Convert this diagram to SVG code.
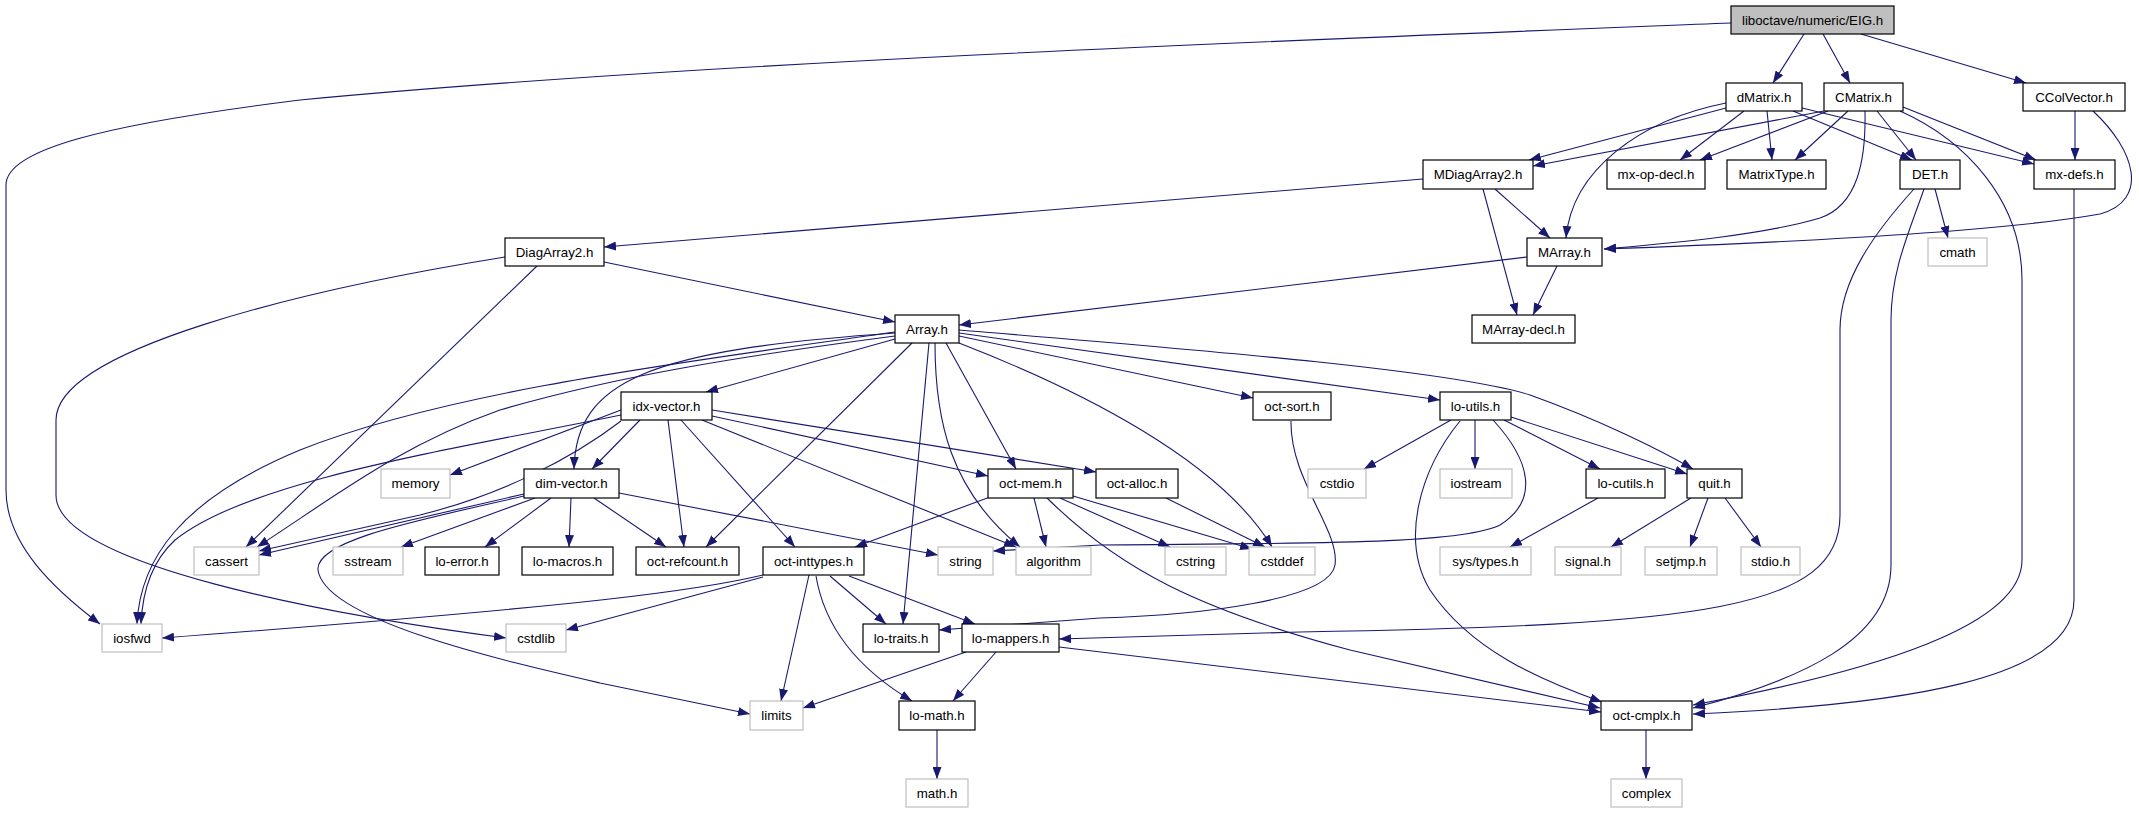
<svg xmlns="http://www.w3.org/2000/svg" width="2139" height="813" viewBox="0 0 2139 813">
<defs>
<marker id="arr" viewBox="0 0 12 9" refX="12" refY="4.5" markerWidth="12" markerHeight="9" markerUnits="userSpaceOnUse" orient="auto">
<path d="M0,0 L12,4.5 L0,9 z" fill="#191970"/>
</marker>
<style>
.e path{fill:none;stroke:#191970;stroke-width:1.1;marker-end:url(#arr)}
.n rect{fill:#fff;stroke:#000;stroke-width:1.2}
.s rect{fill:#fff;stroke:#bfbfbf;stroke-width:1.2}
.r rect{fill:#bfbfbf;stroke:#000;stroke-width:1.2}
text{font-family:"Liberation Sans",Arial,Helvetica,sans-serif;font-size:13.3px;fill:#000;text-anchor:middle}
</style>
</defs>
<rect width="2139" height="813" fill="#fff"/>
<g id="edges" class="e">
<path d="M1731,23 C1300,40 700,62 300,100 C100,125 6,150 6,185 L6,490 C6,545 55,590 100,624"/>
<path d="M1804,34 L1773,83"/>
<path d="M1823,34 L1850,83"/>
<path d="M1861,34 L2026,83"/>
<path d="M1726,108 L1529,160"/>
<path d="M1726,103 C1640,120 1572,170 1566,238"/>
<path d="M1744,111 L1680,160"/>
<path d="M1767,111 L1772,160"/>
<path d="M1793,111 L1912,160"/>
<path d="M1802,108 L2034,164"/>
<path d="M1824,111 L1533,166"/>
<path d="M1828,111 L1700,160"/>
<path d="M1848,111 L1795,160"/>
<path d="M1877,111 L1916,160"/>
<path d="M1903,107 L2036,160"/>
<path d="M1865,111 C1866,160 1858,205 1820,218 C1760,236 1660,244 1604,249"/>
<path d="M1900,111 C1965,140 2022,200 2022,280 L2022,560 C2022,625 1880,670 1693,705"/>
<path d="M2075,111 L2075,160"/>
<path d="M2093,111 C2135,150 2150,200 2100,214 C2000,232 1800,242 1604,249"/>
<path d="M1423,179 L604,247"/>
<path d="M1495,189 L1550,238"/>
<path d="M1483,189 L1517,315"/>
<path d="M1935,189 L1948,238"/>
<path d="M1914,189 C1875,232 1840,280 1840,330 L1840,515 C1840,610 1700,625 1300,632 L1059,639"/>
<path d="M1924,189 C1910,230 1891,270 1891,320 L1891,565 C1891,640 1800,680 1693,708"/>
<path d="M2074,189 L2074,600 C2074,680 1900,705 1693,714"/>
<path d="M604,262 L895,322"/>
<path d="M537,266 L246,547"/>
<path d="M505,257 C300,290 56,350 56,420 L56,495 C56,565 330,615 506,638"/>
<path d="M1527,257 L959,325"/>
<path d="M1557,266 L1533,315"/>
<path d="M895,339 L706,392"/>
<path d="M895,333 C650,350 576,380 574,469"/>
<path d="M895,332 C700,360 450,390 300,450 C180,500 140,560 137,624"/>
<path d="M895,336 C750,355 620,375 500,410 C400,445 330,500 257,547"/>
<path d="M912,343 L706,547"/>
<path d="M929,343 L903,624"/>
<path d="M935,343 C935,420 950,490 1020,547"/>
<path d="M946,343 L1016,469"/>
<path d="M959,343 C1080,390 1220,460 1272,547"/>
<path d="M959,336 L1253,398"/>
<path d="M959,333 L1440,400"/>
<path d="M959,330 C1200,350 1450,370 1530,395 C1600,420 1660,450 1693,469"/>
<path d="M621,410 L450,475"/>
<path d="M640,420 L592,469"/>
<path d="M621,415 C450,450 250,480 175,540 C148,565 142,600 141,624"/>
<path d="M621,421 C570,460 500,495 420,515 L259,551"/>
<path d="M668,420 L684,547"/>
<path d="M681,420 L795,547"/>
<path d="M702,420 L1016,547"/>
<path d="M712,416 L988,476"/>
<path d="M712,410 L1096,472"/>
<path d="M524,494 L259,555"/>
<path d="M535,498 L401,547"/>
<path d="M551,498 L485,547"/>
<path d="M571,498 L569,547"/>
<path d="M594,498 L666,547"/>
<path d="M619,493 L938,555"/>
<path d="M524,496 C420,520 315,540 318,570 C325,620 500,660 600,683 L750,714"/>
<path d="M990,497 L855,547"/>
<path d="M1034,498 L1046,547"/>
<path d="M1060,498 L1170,547"/>
<path d="M1073,496 L1252,549"/>
<path d="M1047,498 C1120,570 1200,610 1350,650 L1600,708"/>
<path d="M1166,498 L1265,547"/>
<path d="M763,575 C700,590 600,605 162,638"/>
<path d="M763,577 L566,630"/>
<path d="M809,575 L781,701"/>
<path d="M816,576 C825,630 860,670 912,701"/>
<path d="M830,576 L886,624"/>
<path d="M849,576 L975,624"/>
<path d="M966,652 L803,708"/>
<path d="M996,652 L953,701"/>
<path d="M1059,647 L1601,712"/>
<path d="M937,730 L937,779"/>
<path d="M1646,730 L1646,779"/>
<path d="M1291,421 C1290,480 1340,530 1335,565 C1330,600 1200,615 1100,618 L939,630"/>
<path d="M1451,420 L1364,469"/>
<path d="M1475,420 L1475,469"/>
<path d="M1504,420 L1600,469"/>
<path d="M1511,417 L1687,474"/>
<path d="M1493,420 C1530,460 1540,500 1500,525 C1460,545 1300,543 1100,545 L993,551"/>
<path d="M1460,421 C1420,470 1400,540 1430,590 C1470,650 1540,680 1602,702"/>
<path d="M1598,498 L1510,547"/>
<path d="M1691,498 L1611,547"/>
<path d="M1708,498 L1690,547"/>
<path d="M1725,498 L1761,547"/>
</g>
<g id="EIG" class="r"><rect x="1731" y="6" width="163" height="28"/><text x="1812.5" y="24.5">liboctave/numeric/EIG.h</text></g>
<g id="dMatrix" class="n"><rect x="1726" y="83" width="76" height="28"/><text x="1764" y="101.5">dMatrix.h</text></g>
<g id="CMatrix" class="n"><rect x="1824" y="83" width="79" height="28"/><text x="1863.5" y="101.5">CMatrix.h</text></g>
<g id="CColVector" class="n"><rect x="2023" y="83" width="102" height="28"/><text x="2074" y="101.5">CColVector.h</text></g>
<g id="MDiagArray2" class="n"><rect x="1423" y="160" width="110" height="29"/><text x="1478" y="179">MDiagArray2.h</text></g>
<g id="mx-op-decl" class="n"><rect x="1607" y="160" width="98" height="29"/><text x="1656" y="179">mx-op-decl.h</text></g>
<g id="MatrixType" class="n"><rect x="1727" y="160" width="99" height="29"/><text x="1776.5" y="179">MatrixType.h</text></g>
<g id="DET" class="n"><rect x="1900" y="160" width="60" height="29"/><text x="1930" y="179">DET.h</text></g>
<g id="mx-defs" class="n"><rect x="2034" y="160" width="81" height="29"/><text x="2074.5" y="179">mx-defs.h</text></g>
<g id="DiagArray2" class="n"><rect x="505" y="238" width="99" height="28"/><text x="554.5" y="256.5">DiagArray2.h</text></g>
<g id="MArray" class="n"><rect x="1527" y="238" width="75" height="28"/><text x="1564.5" y="256.5">MArray.h</text></g>
<g id="cmath" class="s"><rect x="1928" y="238" width="59" height="28"/><text x="1957.5" y="256.5">cmath</text></g>
<g id="Array" class="n"><rect x="895" y="315" width="64" height="28"/><text x="927" y="333.5">Array.h</text></g>
<g id="MArray-decl" class="n"><rect x="1472" y="315" width="103" height="28"/><text x="1523.5" y="333.5">MArray-decl.h</text></g>
<g id="idx-vector" class="n"><rect x="621" y="392" width="91" height="28"/><text x="666.5" y="410.5">idx-vector.h</text></g>
<g id="oct-sort" class="n"><rect x="1253" y="392" width="78" height="28"/><text x="1292" y="410.5">oct-sort.h</text></g>
<g id="lo-utils" class="n"><rect x="1440" y="392" width="71" height="28"/><text x="1475.5" y="410.5">lo-utils.h</text></g>
<g id="memory" class="s"><rect x="381" y="469" width="69" height="29"/><text x="415.5" y="488">memory</text></g>
<g id="dim-vector" class="n"><rect x="524" y="469" width="95" height="29"/><text x="571.5" y="488">dim-vector.h</text></g>
<g id="oct-mem" class="n"><rect x="988" y="469" width="85" height="29"/><text x="1030.5" y="488">oct-mem.h</text></g>
<g id="oct-alloc" class="n"><rect x="1096" y="469" width="82" height="29"/><text x="1137" y="488">oct-alloc.h</text></g>
<g id="cstdio" class="s"><rect x="1308" y="469" width="58" height="29"/><text x="1337" y="488">cstdio</text></g>
<g id="iostream" class="s"><rect x="1440" y="469" width="72" height="29"/><text x="1476" y="488">iostream</text></g>
<g id="lo-cutils" class="n"><rect x="1586" y="469" width="79" height="29"/><text x="1625.5" y="488">lo-cutils.h</text></g>
<g id="quit" class="n"><rect x="1687" y="469" width="55" height="29"/><text x="1714.5" y="488">quit.h</text></g>
<g id="cassert" class="s"><rect x="194" y="547" width="65" height="28"/><text x="226.5" y="565.5">cassert</text></g>
<g id="sstream" class="s"><rect x="333" y="547" width="70" height="28"/><text x="368" y="565.5">sstream</text></g>
<g id="lo-error" class="n"><rect x="425" y="547" width="74" height="28"/><text x="462" y="565.5">lo-error.h</text></g>
<g id="lo-macros" class="n"><rect x="522" y="547" width="91" height="28"/><text x="567.5" y="565.5">lo-macros.h</text></g>
<g id="oct-refcount" class="n"><rect x="636" y="547" width="103" height="28"/><text x="687.5" y="565.5">oct-refcount.h</text></g>
<g id="oct-inttypes" class="n"><rect x="763" y="547" width="101" height="28"/><text x="813.5" y="565.5">oct-inttypes.h</text></g>
<g id="string" class="s"><rect x="938" y="547" width="55" height="28"/><text x="965.5" y="565.5">string</text></g>
<g id="algorithm" class="s"><rect x="1016" y="547" width="75" height="28"/><text x="1053.5" y="565.5">algorithm</text></g>
<g id="cstring" class="s"><rect x="1165" y="547" width="61" height="28"/><text x="1195.5" y="565.5">cstring</text></g>
<g id="cstddef" class="s"><rect x="1249" y="547" width="66" height="28"/><text x="1282" y="565.5">cstddef</text></g>
<g id="sys-types" class="s"><rect x="1440" y="547" width="91" height="28"/><text x="1485.5" y="565.5">sys/types.h</text></g>
<g id="signal" class="s"><rect x="1555" y="547" width="66" height="28"/><text x="1588" y="565.5">signal.h</text></g>
<g id="setjmp" class="s"><rect x="1645" y="547" width="72" height="28"/><text x="1681" y="565.5">setjmp.h</text></g>
<g id="stdio" class="s"><rect x="1741" y="547" width="59" height="28"/><text x="1770.5" y="565.5">stdio.h</text></g>
<g id="iosfwd" class="s"><rect x="102" y="624" width="60" height="28"/><text x="132" y="642.5">iosfwd</text></g>
<g id="cstdlib" class="s"><rect x="506" y="624" width="60" height="28"/><text x="536" y="642.5">cstdlib</text></g>
<g id="lo-traits" class="n"><rect x="863" y="624" width="76" height="28"/><text x="901" y="642.5">lo-traits.h</text></g>
<g id="lo-mappers" class="n"><rect x="962" y="624" width="97" height="28"/><text x="1010.5" y="642.5">lo-mappers.h</text></g>
<g id="limits" class="s"><rect x="750" y="701" width="53" height="29"/><text x="776.5" y="720">limits</text></g>
<g id="lo-math" class="n"><rect x="899" y="701" width="76" height="29"/><text x="937" y="720">lo-math.h</text></g>
<g id="oct-cmplx" class="n"><rect x="1601" y="701" width="91" height="29"/><text x="1646.5" y="720">oct-cmplx.h</text></g>
<g id="math" class="s"><rect x="906" y="779" width="62" height="28"/><text x="937" y="797.5">math.h</text></g>
<g id="complex" class="s"><rect x="1611" y="779" width="71" height="28"/><text x="1646.5" y="797.5">complex</text></g>
</svg>
